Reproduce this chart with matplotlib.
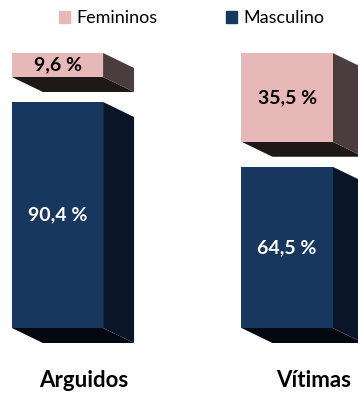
import matplotlib
matplotlib.use("Agg")
import matplotlib.pyplot as plt
from matplotlib.patches import Polygon, Patch

plt.rcParams['font.family'] = ['Lato', 'DejaVu Sans']

# data
categories = ['Arguidos', 'Vítimas']
series = ['Femininos', 'Masculino']
masculino = [90.4, 64.5]
femininos = [9.6, 35.5]

# styles
front = {'Femininos': '#E6B9B8', 'Masculino': '#17375E'}
side = {'Femininos': '#4B3D3D', 'Masculino': '#0A1628'}
under = {'Femininos': '#1E1817', 'Masculino': '#03070F'}
label_col = {'Femininos': 'black', 'Masculino': 'white'}

width = 0.397
dx, dy = 0.135, 6.0   # depth of the "3d" boxes
gap = 10.0            # exploded gap between the stacked parts

fig = plt.figure(figsize=(3.58, 3.94), dpi=100)
ax = fig.add_axes([0, 0, 1, 1])
ax.set_xlim(-0.2505, 1.309)
ax.set_ylim(-26.4, 131.2)
ax.axis('off')


def box(x, bottom, height, name):
    top = bottom + height
    r = x + width / 2
    l = x - width / 2
    # bottom face
    ax.add_patch(Polygon([(l, bottom), (r, bottom), (r + dx, bottom - dy), (l + dx, bottom - dy)],
                         closed=True, facecolor=under[name], edgecolor='none', zorder=1))
    # right side face
    ax.add_patch(Polygon([(r, bottom), (r, top), (r + dx, top - dy), (r + dx, bottom - dy)],
                         closed=True, facecolor=side[name], edgecolor='none', zorder=1))
    ax.bar(x, height, width, bottom=bottom, color=front[name], zorder=2)
    txt = f"{height:.1f}".replace('.', ',') + " %"
    ax.text(x, bottom + height / 2, txt, ha='center', va='center', fontsize=14,
            fontweight='bold', color=label_col[name], zorder=3)


for i, cat in enumerate(categories):
    box(i, 0, masculino[i], 'Masculino')
    box(i, masculino[i] + gap, femininos[i], 'Femininos')
    ax.text(i + 0.115, -21, cat, ha='center', va='center', fontsize=16, fontweight='bold')

handles = [Patch(color=front[s]) for s in series]
fig.legend(handles, series, loc='upper center', bbox_to_anchor=(0.535, 1.015), ncol=2,
           frameon=False, fontsize=13, handlelength=0.6, handleheight=0.6,
           handletextpad=0.35, columnspacing=3.8)

fig.savefig('out.png', dpi=100)
